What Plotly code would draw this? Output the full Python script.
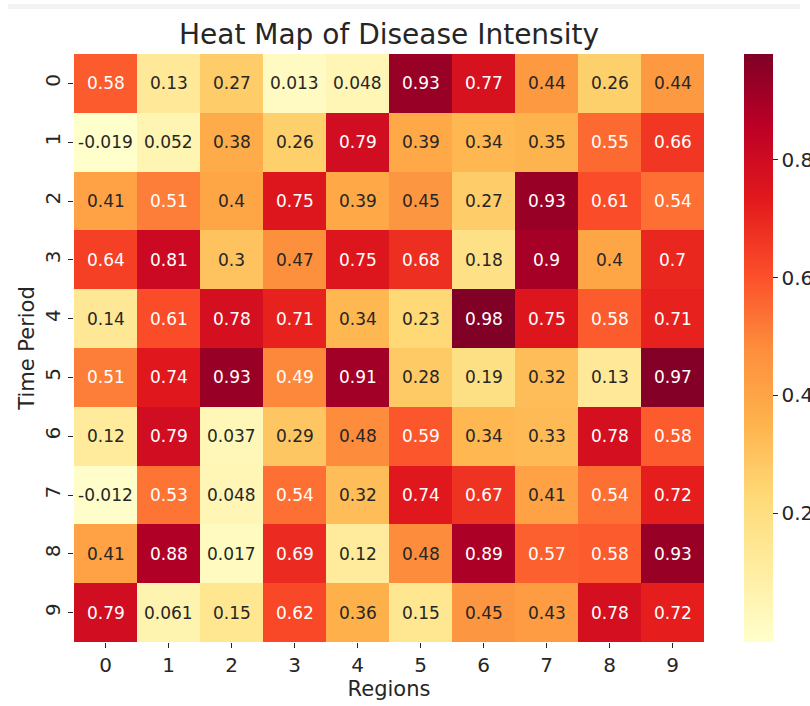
import plotly.graph_objects as go

regions = [0, 1, 2, 3, 4, 5, 6, 7, 8, 9]
time_periods = [0, 1, 2, 3, 4, 5, 6, 7, 8, 9]

row0 = [0.58, 0.13, 0.27, 0.013, 0.048, 0.93, 0.77, 0.44, 0.26, 0.44]
row1 = [-0.019, 0.052, 0.38, 0.26, 0.79, 0.39, 0.34, 0.35, 0.55, 0.66]
row2 = [0.41, 0.51, 0.4, 0.75, 0.39, 0.45, 0.27, 0.93, 0.61, 0.54]
row3 = [0.64, 0.81, 0.3, 0.47, 0.75, 0.68, 0.18, 0.9, 0.4, 0.7]
row4 = [0.14, 0.61, 0.78, 0.71, 0.34, 0.23, 0.98, 0.75, 0.58, 0.71]
row5 = [0.51, 0.74, 0.93, 0.49, 0.91, 0.28, 0.19, 0.32, 0.13, 0.97]
row6 = [0.12, 0.79, 0.037, 0.29, 0.48, 0.59, 0.34, 0.33, 0.78, 0.58]
row7 = [-0.012, 0.53, 0.048, 0.54, 0.32, 0.74, 0.67, 0.41, 0.54, 0.72]
row8 = [0.41, 0.88, 0.017, 0.69, 0.12, 0.48, 0.89, 0.57, 0.58, 0.93]
row9 = [0.79, 0.061, 0.15, 0.62, 0.36, 0.15, 0.45, 0.43, 0.78, 0.72]
z = [row0, row1, row2, row3, row4, row5, row6, row7, row8, row9]

cbar_ticks = [0.2, 0.4, 0.6, 0.8]

ylorrd = ["#ffffcc", "#ffeda0", "#fed976", "#feb24c", "#fd8d3c",
          "#fc4e2a", "#e31a1c", "#bd0026", "#800026"]
colorscale = [[i / (len(ylorrd) - 1), c] for i, c in enumerate(ylorrd)]

FONT = "DejaVu Sans"
DARK = "#262626"

zmin = min(min(r) for r in z)
zmax = max(max(r) for r in z)

W, H = 810, 706

fig = go.Figure()
fig.add_trace(go.Heatmap(
    z=z, x=regions, y=time_periods,
    colorscale=colorscale, zmin=zmin, zmax=zmax,
    xgap=0, ygap=0,
    colorbar=dict(
        x=1.0635, xanchor="left", xpad=0, ypad=0,
        y=0.5, yanchor="middle", len=1, lenmode="fraction",
        thickness=29, outlinewidth=0,
        tickvals=cbar_ticks, ticktext=[str(t) for t in cbar_ticks],
        ticks="outside", ticklen=5, tickcolor=DARK,
        tickfont=dict(family=FONT, size=20, color=DARK),
    ),
    hoverinfo="skip",
))

annotations = []
for i, row in enumerate(z):
    for j, v in enumerate(row):
        annotations.append(dict(
            x=regions[j], y=time_periods[i], xref="x", yref="y",
            text=format(v, ".2g"), showarrow=False,
            font=dict(family=FONT, size=17,
                      color="#ffffff" if v >= 0.485 else DARK),
        ))

fig.update_layout(
    width=W, height=H,
    margin=dict(l=74, r=106, t=54, b=64, autoexpand=False),
    paper_bgcolor="white", plot_bgcolor="white",
    font=dict(family=FONT, color=DARK),
    title=dict(text="Heat Map of Disease Intensity", x=0.5, xref="paper",
               xanchor="center", y=1 - 34 / H, yanchor="middle",
               yref="container",
               font=dict(family=FONT, size=28, color=DARK)),
    annotations=annotations,
    shapes=[dict(type="rect", xref="paper", yref="paper",
                 x0=-66 / 630, x1=(800 - 74) / 630,
                 y0=1 + 45 / 588, y1=1 + 50 / 588,
                 fillcolor="#f3f3f3", line=dict(width=0), layer="below")],
)

fig.update_xaxes(
    tickmode="array", tickvals=regions, ticktext=[str(r) for r in regions],
    ticks="outside", ticklen=5, tickcolor=DARK,
    tickfont=dict(family=FONT, size=20, color=DARK),
    title=dict(text="Regions", font=dict(family=FONT, size=21, color=DARK),
               standoff=3),
    showgrid=False, zeroline=False, showline=False, automargin=False,
)
fig.update_yaxes(
    tickmode="array", tickvals=time_periods,
    ticktext=[str(t) for t in time_periods],
    autorange="reversed", tickangle=-90,
    ticks="outside", ticklen=5, tickcolor=DARK,
    tickfont=dict(family=FONT, size=20, color=DARK),
    title=dict(text="Time Period", font=dict(family=FONT, size=21, color=DARK),
               standoff=0),
    showgrid=False, zeroline=False, showline=False, automargin=False,
)

fig.write_html(
    "out.html",
    config={"displayModeBar": False},
    post_script="document.body.style.margin='0px';"
                "document.body.style.overflow='hidden';",
)
